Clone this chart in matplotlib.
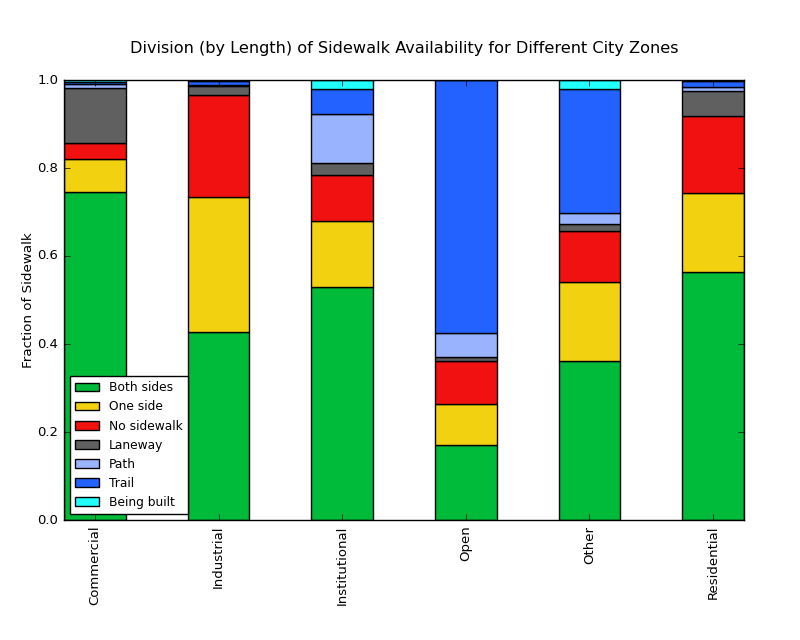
import matplotlib
matplotlib.use("Agg")
import matplotlib.pyplot as plt
import numpy as np

zones = ["Commercial", "Industrial", "Institutional", "Open", "Other", "Residential"]
categories = ["Both sides", "One side", "No sidewalk", "Laneway", "Path", "Trail", "Being built"]
colors = ["#00bb3a", "#f2d111", "#f21111", "#606060", "#99b3ff", "#2462ff", "#22ffff"]

# fractions per zone, one list per category
both_sides = [0.745, 0.427, 0.530, 0.170, 0.361, 0.564]
one_side = [0.075, 0.307, 0.150, 0.094, 0.180, 0.179]
no_sidewalk = [0.037, 0.231, 0.104, 0.097, 0.116, 0.176]
laneway = [0.124, 0.021, 0.027, 0.009, 0.016, 0.057]
path = [0.010, 0.002, 0.111, 0.054, 0.025, 0.009]
trail = [0.004, 0.010, 0.057, 0.576, 0.281, 0.013]
being_built = [0.005, 0.002, 0.021, 0.000, 0.021, 0.002]

series = [both_sides, one_side, no_sidewalk, laneway, path, trail, being_built]

plt.style.use("classic")
fig = plt.figure(figsize=(8, 6.4), dpi=100)
ax = fig.add_axes([0.08, 0.1875, 0.85, 0.6875])

x = np.arange(len(zones))
bottom = np.zeros(len(zones))
for name, vals, col in zip(categories, series, colors):
    ax.bar(x, vals, 0.5, bottom=bottom, color=col, edgecolor="black",
           label=name, align="center")
    bottom += np.array(vals)

ax.set_xlim(-0.25, 5.25)
ax.set_ylim(0, 1.0)
ax.set_xticks(x)
ax.set_xticklabels(zones, rotation=90, fontsize=9.5)
ax.tick_params(axis="y", labelsize=9.5)
ax.set_ylabel("Fraction of Sidewalk", fontsize=9.7, labelpad=2)
ax.set_title("Division (by Length) of Sidewalk Availability for Different City Zones",
             fontsize=11.6, y=1.045)
ax.legend(loc="lower left", fontsize=8.8)

fig.savefig("out.png", dpi=100)
